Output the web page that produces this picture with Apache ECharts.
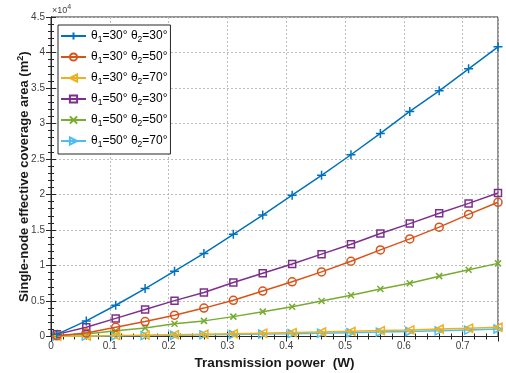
<!DOCTYPE html>
<html>
<head>
<meta charset="utf-8">
<script src="https://cdn.jsdelivr.net/npm/echarts@6/dist/echarts.min.js"></script>
<style>
  html, body { margin: 0; padding: 0; background: #fff; }
  #chart { width: 506px; height: 373px; }
</style>
</head>
<body>
<div id="chart"></div>
<script>
// transmission power (W)
var power = [0.01, 0.06, 0.11, 0.16, 0.21, 0.26, 0.31, 0.36, 0.41, 0.46, 0.51, 0.56, 0.61, 0.66, 0.71, 0.76];

// coverage area, in units of 10^4 m^2
var area_30_30 = [0.03, 0.22, 0.44, 0.675, 0.92, 1.17, 1.44, 1.71, 1.99, 2.27, 2.56, 2.86, 3.17, 3.46, 3.77, 4.08];
var area_30_50 = [0.01, 0.05, 0.13, 0.21, 0.30, 0.40, 0.51, 0.64, 0.77, 0.91, 1.06, 1.22, 1.375, 1.54, 1.72, 1.89];
var area_30_70 = [0.003, 0.008, 0.013, 0.019, 0.025, 0.032, 0.039, 0.047, 0.055, 0.064, 0.073, 0.083, 0.093, 0.105, 0.117, 0.13];
var area_50_30 = [0.03, 0.13, 0.255, 0.38, 0.505, 0.62, 0.76, 0.89, 1.02, 1.16, 1.30, 1.45, 1.59, 1.735, 1.875, 2.02];
var area_50_50 = [0.01, 0.035, 0.08, 0.12, 0.18, 0.22, 0.28, 0.35, 0.42, 0.50, 0.58, 0.67, 0.75, 0.85, 0.94, 1.03];
var area_50_70 = [0.002, 0.005, 0.009, 0.013, 0.018, 0.023, 0.028, 0.034, 0.04, 0.047, 0.054, 0.062, 0.07, 0.08, 0.09, 0.105];

var theta1 = [30, 30, 30, 50, 50, 50];
var theta2 = [30, 50, 70, 30, 50, 70];
var colors = ['#0072BD', '#D95319', '#EDB120', '#7E2F8E', '#77AC30', '#4DBEEE'];
var symbols = [
    'path://M0,-1L0,1M-1,0L1,0',
    'circle',
    'path://M1,-1L-1,0L1,1Z',
    'rect',
    'path://M-1,-1L1,1M-1,1L1,-1',
    'path://M-1,-1L1,0L-1,1Z'
];
var sizes = [9, 8, 8, 7, 6, 8];
var allAreas = [area_30_30, area_30_50, area_30_70, area_50_30, area_50_50, area_50_70];

function pairs(ys) {
    return power.map(function(x, i) { return [x, ys[i]]; });
}

var font = 'Liberation Sans, Arial, Helvetica, sans-serif';

var series = allAreas.map(function(ys, k) {
    return {
        name: 'θ1=' + theta1[k] + '° θ2=' + theta2[k] + '°',
        type: 'line',
        data: pairs(ys),
        symbol: symbols[k],
        symbolSize: sizes[k],
        showAllSymbol: true,
        lineStyle: { color: colors[k], width: 1.5 },
        itemStyle: { color: 'rgba(255,255,255,0)', borderColor: colors[k], borderWidth: 1.5 },
        emphasis: { disabled: true },
        z: 10 - k
    };
});

var chart = echarts.init(document.getElementById('chart'));

var tickStyle = { color: '#262626', width: 1 };

chart.setOption({
    backgroundColor: '#fff',
    animation: false,
    textStyle: { fontFamily: font },
    grid: {
        left: 51, top: 17, width: 447, height: 319.5,
        outerBoundsMode: 'none', containLabel: false,
        show: true, borderColor: '#262626', borderWidth: 1
    },
    legend: {
        orient: 'vertical',
        left: 58,
        top: 25,
        padding: [5, 3, 5, 2],
        itemGap: 7,
        itemWidth: 25,
        itemHeight: 9,
        backgroundColor: '#fff',
        borderColor: '#262626',
        borderWidth: 1,
        data: series.map(function(s) { return s.name; }),
        formatter: function(name) {
            var k = series.findIndex(function(s) { return s.name === name; });
            return '{a|θ}{b|1}{a|=' + theta1[k] + '° θ}{b|2}{a|=' + theta2[k] + '°}';
        },
        textStyle: {
            fontFamily: font,
            rich: {
                a: { fontSize: 12, color: '#000', fontFamily: font, lineHeight: 16, verticalAlign: 'middle' },
                b: { fontSize: 8.5, color: '#000', fontFamily: font, padding: [7, 0, 0, 0], verticalAlign: 'middle' }
            }
        }
    },
    graphic: [{
        type: 'text',
        left: 52,
        top: 4,
        style: {
            text: '×10{s|4}',
            fill: '#404040',
            font: '9px ' + font,
            rich: { s: { fontSize: 7, padding: [0, 0, 6, 0], fill: '#404040' } }
        }
    }],
    xAxis: [{
        type: 'value',
        min: 0,
        max: 0.76,
        interval: 0.1,
        name: 'Transmission power  (W)',
        nameLocation: 'middle',
        nameGap: 20,
        nameMoveOverlap: false,
        nameTextStyle: { fontSize: 13.5, fontWeight: 'bold', color: '#1a1a1a', fontFamily: font },
        axisLine: { show: true, onZero: false, lineStyle: tickStyle },
        axisTick: { show: true, inside: true, length: 5, lineStyle: tickStyle },
        minorTick: { show: true, splitNumber: 5, length: 3, lineStyle: tickStyle },
        splitLine: { show: true, lineStyle: { color: '#bdbdbd', type: [2, 2], width: 1 } },
        axisLabel: {
            color: '#404040', fontSize: 10, margin: 5, showMaxLabel: false,
            formatter: function(v) { return v === 0 ? '0' : v.toFixed(1); }
        }
    }, {
        type: 'value',
        position: 'top',
        min: 0,
        max: 0.76,
        interval: 0.1,
        axisLine: { show: true, lineStyle: tickStyle },
        axisTick: { show: true, inside: true, length: 5, lineStyle: tickStyle },
        minorTick: { show: true, splitNumber: 5, length: 3, lineStyle: tickStyle },
        splitLine: { show: false },
        axisLabel: { show: false }
    }],
    yAxis: [{
        type: 'value',
        min: 0,
        max: 4.5,
        interval: 0.5,
        name: '{a|Single-node effective coverage area (m}{s|2}{a|)}',
        nameLocation: 'middle',
        nameGap: 19,
        nameMoveOverlap: false,
        nameTextStyle: {
            rich: {
                a: { fontSize: 13, fontWeight: 'bold', color: '#1a1a1a', fontFamily: font },
                s: { fontSize: 9, fontWeight: 'bold', color: '#1a1a1a', fontFamily: font, padding: [0, 0, 7, 0] }
            }
        },
        axisLine: { show: true, onZero: false, lineStyle: tickStyle },
        axisTick: { show: true, inside: true, length: 5, lineStyle: tickStyle },
        minorTick: { show: true, splitNumber: 5, length: 3, lineStyle: tickStyle },
        splitLine: { show: true, lineStyle: { color: '#bdbdbd', type: [2, 2], width: 1 } },
        axisLabel: {
            color: '#404040', fontSize: 10, margin: 6,
            formatter: function(v) { return String(v); }
        }
    }, {
        type: 'value',
        position: 'right',
        min: 0,
        max: 4.5,
        interval: 0.5,
        axisLine: { show: true, lineStyle: tickStyle },
        axisTick: { show: true, inside: true, length: 5, lineStyle: tickStyle },
        minorTick: { show: true, splitNumber: 5, length: 3, lineStyle: tickStyle },
        splitLine: { show: false },
        axisLabel: { show: false }
    }],
    series: series
});
</script>
</body>
</html>
